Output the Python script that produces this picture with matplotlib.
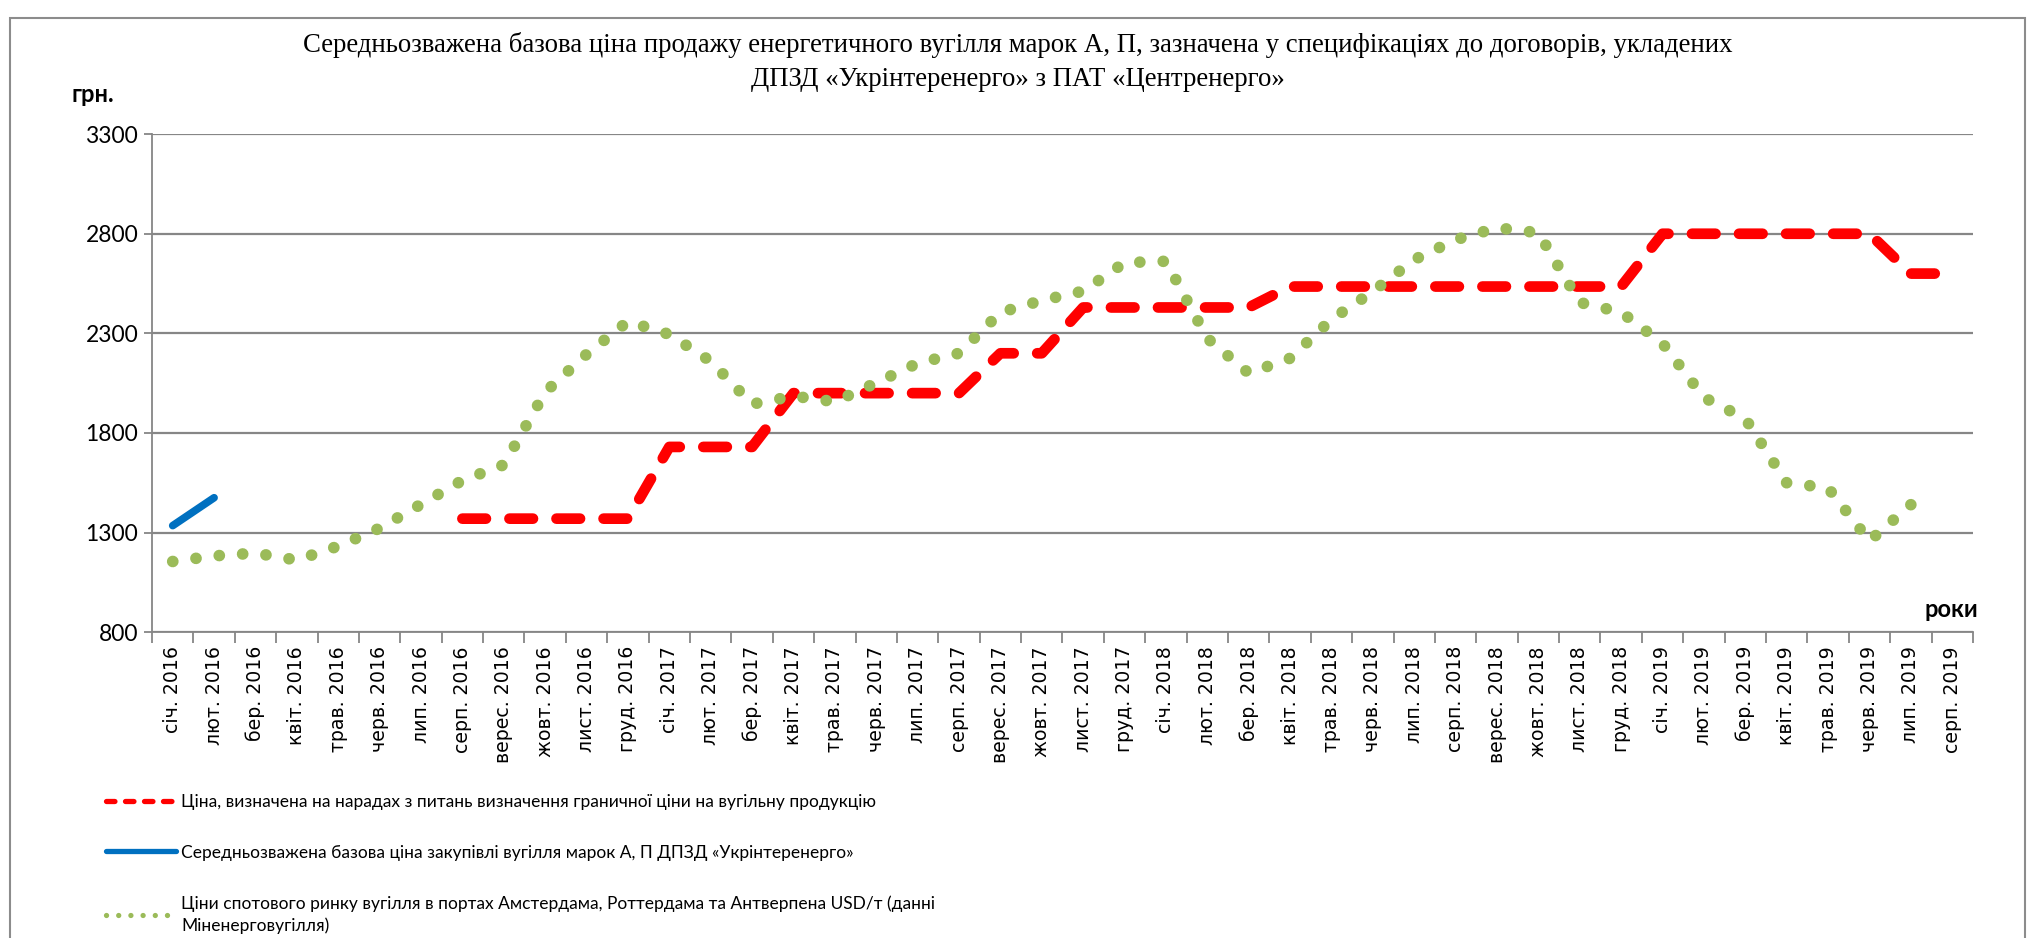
import numpy as np
import matplotlib
matplotlib.use('Agg')
import matplotlib.pyplot as plt
from matplotlib.lines import Line2D
from matplotlib.patches import Rectangle

# month labels, Jan 2016 .. Aug 2019
month_names = ['січ.', 'лют.', 'бер.', 'квіт.', 'трав.', 'черв.',
               'лип.', 'серп.', 'верес.', 'жовт.', 'лист.', 'груд.']
years = [2016, 2017, 2018, 2019]
labels = [f'{m} {y}' for y in years for m in month_names][:44]

nan = np.nan

# price set at the meetings (red dashed)
meeting_price = [nan, nan, nan, nan, nan, nan, nan,
                 1370, 1370, 1370, 1370, 1370,
                 1730, 1730, 1730,
                 2000, 2000, 2000, 2000, 2000,
                 2200, 2200,
                 2430, 2430, 2430, 2430, 2430,
                 2535, 2535, 2535, 2535, 2535, 2535, 2535, 2535, 2535,
                 2800, 2800, 2800, 2800, 2800, 2800,
                 2600, 2600]

# weighted base purchase price (blue)
purchase_price = [1335, 1475] + [nan] * 42

# ARA spot prices (green dotted)
spot_price = [1155, 1183, 1197, 1162, 1232, 1322, 1442, 1562, 1640, 2005,
              2195, 2360, 2295, 2160, 1945, 1985, 1957, 2052, 2150, 2200,
              2405, 2465, 2512, 2655, 2662, 2275, 2100, 2175, 2370, 2510,
              2670, 2770, 2830, 2805, 2455, 2406, 2250, 1978, 1872, 1550,
              1524, 1258, 1440, nan]

legend_labels = [
    'Ціна, визначена на нарадах з питань визначення граничної ціни на вугільну продукцію',
    'Середньозважена базова ціна закупівлі вугілля марок А, П ДПЗД «Укрінтеренерго»',
    'Ціни спотового ринку вугілля в портах Амстердама, Роттердама та Антверпена USD/т (данні\nМіненерговугілля)',
]

RED = '#FF0000'
BLUE = '#0070C0'
GREEN = '#9BBB59'
GRID = '#868686'

fig = plt.figure(figsize=(20.35, 9.38), dpi=100)
ax = fig.add_axes([0.0747, 0.326, 0.8948, 0.531])

x = np.arange(len(labels))

ax.set_xlim(-0.5, len(labels) - 0.5)
ax.set_ylim(800, 3300)

# stretch the dot spacing a little so that a dot falls on both ends of the green line
green_lw = 8.4
spot = np.array(spot_price, dtype=float)
ok = ~np.isnan(spot)
pix = ax.transData.transform(np.column_stack([x[ok], spot[ok]]))
path_len = np.sum(np.hypot(*np.diff(pix, axis=0).T)) * 72 / fig.dpi / green_lw
n_dots = round(path_len / 2.01)
gap = path_len / n_dots - 0.01

ax.plot(x, meeting_price, color=RED, lw=7.7, linestyle=(0, (2.2, 2.2)),
        dash_capstyle='round', solid_capstyle='round', zorder=3)
ax.plot(x, purchase_price, color=BLUE, lw=5.5, solid_capstyle='round', zorder=4)
ax.plot(x, spot_price, color=GREEN, lw=green_lw, linestyle=(0, (0.01, gap)),
        dash_capstyle='round', zorder=5)

ax.set_yticks(np.arange(800, 3301, 500))
ax.yaxis.grid(True, color=GRID, lw=1.6)
ax.set_axisbelow(True)

ax.set_xticks(x)
ax.set_xticklabels(labels, rotation=90, fontsize=13.6, family='DejaVu Sans')
ax.set_xticks(np.arange(-0.5, len(labels)), minor=True)
ax.tick_params(axis='x', which='major', length=0, pad=10)
ax.tick_params(axis='x', which='minor', length=8, color=GRID, width=1.3)
ax.tick_params(axis='y', length=6, color=GRID, width=1.3, pad=4, labelsize=16.5)
for t in ax.get_yticklabels():
    t.set_family(['Lato', 'DejaVu Sans'])

for side in ['top', 'right']:
    ax.spines[side].set_visible(False)
for side in ['left', 'bottom']:
    ax.spines[side].set_color(GRID)
    ax.spines[side].set_linewidth(1.3)

# titles and axis captions
fig.text(0.5, 0.934,
         'Середньозважена базова ціна продажу енергетичного вугілля марок А, П, зазначена у специфікаціях до договорів, укладених\n'
         'ДПЗД «Укрінтеренерго» з ПАТ «Центренерго»',
         ha='center', va='center', fontsize=19.3, family='Liberation Serif',
         linespacing=1.45)
fig.text(0.0455, 0.899, 'грн.', ha='center', va='center', fontsize=17,
         fontweight='bold', family=['Lato', 'DejaVu Sans'])
fig.text(0.972, 0.35, 'роки', ha='right', va='center', fontsize=17,
         fontweight='bold', family=['Lato', 'DejaVu Sans'])

# legend with smaller proxy handles
handles = [
    Line2D([], [], color=RED, lw=3.8, linestyle=(0, (1.6, 2.0)), dash_capstyle='round'),
    Line2D([], [], color=BLUE, lw=3.8, solid_capstyle='round'),
    Line2D([], [], color=GREEN, lw=3.8, linestyle=(0, (0.01, 2.3)), dash_capstyle='round'),
]
leg = fig.legend(handles, legend_labels, loc='upper left', bbox_to_anchor=(0.048, 0.163),
                 frameon=False, handlelength=4.0, handletextpad=0.3, labelspacing=2.0,
                 borderpad=0, prop={'family': ['Lato', 'DejaVu Sans'], 'size': 12.5})
for t in leg.get_texts():
    t.set_linespacing(1.45)

# chart area border
fig.add_artist(Rectangle((10 / 2035, -0.05), 2015 / 2035, 1.05 - 18 / 938,
                         transform=fig.transFigure, fill=False,
                         edgecolor='#8C8C8C', lw=1.5))

fig.savefig('out.png', dpi=100)
